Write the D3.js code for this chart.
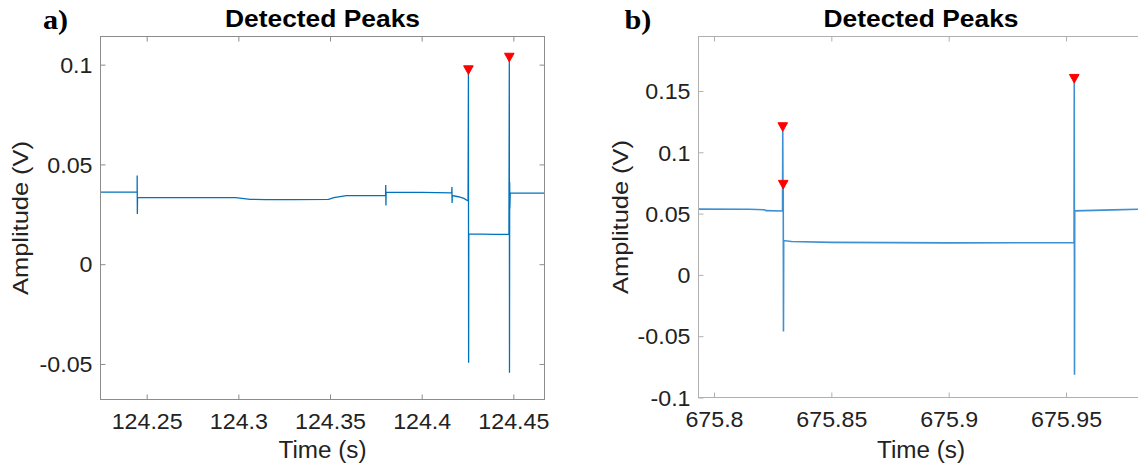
<!DOCTYPE html>
<html>
<head>
<meta charset="utf-8">
<script src="https://cdn.jsdelivr.net/npm/d3@7"></script>
<style>
  html, body { margin: 0; padding: 0; background: #fff; }
  svg { display: block; }
</style>
</head>
<body>
<svg id="fig" width="1138" height="470"></svg>
<script>
// ---- Panel a: recorded trace around t = 124.4 s ----
const timeA = [124.2247, 124.2448, 124.2448, 124.2449, 124.2450, 124.2986, 124.3064, 124.3150, 124.3300,
               124.3492, 124.3521, 124.3589, 124.3803, 124.3804, 124.3805, 124.3806, 124.4000, 124.4164,
               124.4165, 124.4166, 124.4167, 124.4200, 124.4230, 124.4253, 124.4255, 124.4256, 124.4257,
               124.4400, 124.4476, 124.4478, 124.4479, 124.4480, 124.4481, 124.4483, 124.4669];
const ampA  = [0.0361, 0.0361, 0.0444, 0.0251, 0.0334, 0.0334, 0.0325, 0.0324, 0.0324,
               0.0325, 0.0334, 0.0344, 0.0344, 0.0397, 0.0294, 0.0361, 0.0360, 0.0357,
               0.0387, 0.0307, 0.0344, 0.0338, 0.0330, 0.0317, 0.0955, -0.0494, 0.0152,
               0.0149, 0.0151, 0.1018, -0.0544, 0.0412, 0.0279, 0.0356, 0.0356];
const peakTimeA = [124.4255, 124.4478];
const peakAmpA  = [0.0955, 0.1018];
const xTicksA = [124.25, 124.3, 124.35, 124.4, 124.45];
const xTickLabelsA = ["124.25", "124.3", "124.35", "124.4", "124.45"];
const yTicksA = [-0.05, 0, 0.05, 0.1];
const yTickLabelsA = ["-0.05", "0", "0.05", "0.1"];

// ---- Panel b: recorded trace around t = 675.9 s ----
const timeB = [675.7932, 675.8150, 675.8215, 675.8222, 675.8292, 675.8293, 675.8294, 675.8295, 675.8296,
               675.8297, 675.8330, 675.8500, 675.9000, 675.9534, 675.9535, 675.9536, 675.9537, 675.9700, 675.9828];
const ampB  = [0.0536, 0.0535, 0.0531, 0.0524, 0.0521, 0.1177, 0.0650, 0.0707, -0.0462,
               0.0280, 0.0272, 0.0265, 0.0261, 0.0263, 0.1571, -0.0815, 0.0522, 0.0530, 0.0536];
const peakTimeB = [675.8293, 675.8295, 675.9535];
const peakAmpB  = [0.1177, 0.0707, 0.1571];
const xTicksB = [675.8, 675.85, 675.9, 675.95];
const xTickLabelsB = ["675.8", "675.85", "675.9", "675.95"];
const yTicksB = [-0.1, -0.05, 0, 0.05, 0.1, 0.15];
const yTickLabelsB = ["-0.1", "-0.05", "0", "0.05", "0.1", "0.15"];

const svg = d3.select("#fig");
const SANS = "'Liberation Sans', Arial, Helvetica, sans-serif";
const SERIF = "'Liberation Serif', 'Times New Roman', serif";

// Stretch text along its own direction
function widen(sel, k) {
  sel.each(function () {
    const w = this.getComputedTextLength();
    this.setAttribute("textLength", (w * k).toFixed(1));
    this.setAttribute("lengthAdjust", "spacingAndGlyphs");
  });
}
function fitTo(sel, len) {
  sel.attr("textLength", len).attr("lengthAdjust", "spacingAndGlyphs");
}

function drawPanel(p) {
  const g = svg.append("g");
  const x = d3.scaleLinear().domain(p.xDomain).range([p.left, p.right]);
  const y = d3.scaleLinear().domain(p.yDomain).range([p.bottom, p.top]);

  const clipId = "clip-" + p.id;
  svg.append("clipPath").attr("id", clipId)
    .append("rect").attr("x", p.left).attr("y", p.top)
    .attr("width", p.right - p.left).attr("height", p.bottom - p.top);

  // trace
  const pts = p.time.map((t, i) => [t, p.amp[i]]);
  g.append("path")
    .attr("clip-path", `url(#${clipId})`)
    .attr("d", d3.line().x(d => x(d[0])).y(d => y(d[1]))(pts))
    .attr("fill", "none")
    .attr("stroke", p.lineColor)
    .attr("stroke-width", p.lineWidth)
    .attr("stroke-linejoin", "miter");

  // peak markers (downward triangles whose tip sits on the peak)
  g.selectAll("path.peak")
    .data(p.peakTime.map((t, i) => [t, p.peakAmp[i]]))
    .join("path")
    .attr("class", "peak")
    .attr("d", d => {
      const cx = x(d[0]), cy = y(d[1]);
      return `M${cx - 4.8},${cy - 7.8}L${cx + 4.8},${cy - 7.8}L${cx},${cy + 0.8}Z`;
    })
    .attr("fill", "#ff0000")
    .attr("stroke", "#ff0000")
    .attr("stroke-width", 1)
    .attr("stroke-linejoin", "round");

  // axes with inward ticks on all four sides
  const ax = (axis, tr, vals, labels) => {
    const a = g.append("g").attr("transform", tr)
      .call(axis.tickValues(vals)
        .tickFormat(labels ? ((d, i) => labels[i]) : () => "")
        .tickSizeInner(-5).tickSizeOuter(0));
    a.select(".domain").remove();
    a.selectAll(".tick line").attr("stroke", p.axisColor);
    return a;
  };
  const bottomAx = ax(d3.axisBottom(x).tickPadding(14.5), `translate(0,${p.bottom})`, p.xTicks, p.xTickLabels);
  ax(d3.axisTop(x), `translate(0,${p.top})`, p.xTicks, null);
  const leftAx = ax(d3.axisLeft(y).tickPadding(8), `translate(${p.left},0)`, p.yTicks, p.yTickLabels);
  ax(d3.axisRight(y), `translate(${p.right},0)`, p.yTicks, null);

  bottomAx.selectAll("text")
    .attr("font-family", SANS).attr("font-size", 21.5).attr("fill", "#222");
  leftAx.selectAll("text")
    .attr("font-family", SANS).attr("font-size", 21.5).attr("fill", "#222").attr("dy", "0.36em");
  widen(bottomAx.selectAll("text"), 1.08);
  widen(leftAx.selectAll("text"), 1.08);

  // axis box
  g.append("rect")
    .attr("x", p.left).attr("y", p.top)
    .attr("width", p.right - p.left).attr("height", p.bottom - p.top)
    .attr("fill", "none").attr("stroke", p.axisColor).attr("stroke-width", 1);

  const cx = (p.left + p.right) / 2;
  const cy = (p.top + p.bottom) / 2;

  // title
  const title = g.append("text")
    .attr("x", cx).attr("y", 26.5)
    .attr("text-anchor", "middle")
    .attr("font-family", SANS).attr("font-weight", "bold").attr("font-size", 23.5)
    .attr("fill", "#000")
    .text("Detected Peaks");
  fitTo(title, 195);

  // x label
  const xl = g.append("text")
    .attr("x", cx).attr("y", 458)
    .attr("text-anchor", "middle")
    .attr("font-family", SANS).attr("font-size", 23).attr("fill", "#222")
    .text("Time (s)");
  fitTo(xl, 88);

  // y label
  const yl = g.append("text")
    .attr("transform", `translate(${p.yLabelX},${cy}) rotate(-90)`)
    .attr("text-anchor", "middle")
    .attr("font-family", SANS).attr("font-size", 22.5).attr("fill", "#222")
    .text("Amplitude (V)");
  fitTo(yl, 154);

  // panel letter
  const letter = g.append("text")
    .attr("x", p.letterX).attr("y", 29)
    .attr("font-family", SERIF).attr("font-weight", "bold").attr("font-size", 28)
    .attr("fill", "#000")
    .text(p.letter);
  widen(letter, 1.08);
}

drawPanel({
  id: "a", letter: "a)", letterX: 43,
  left: 100.5, right: 544.5, top: 36.5, bottom: 399.5,
  xDomain: [124.2248, 124.4670], yDomain: [-0.0678, 0.1141],
  time: timeA, amp: ampA, peakTime: peakTimeA, peakAmp: peakAmpA,
  xTicks: xTicksA, xTickLabels: xTickLabelsA, yTicks: yTicksA, yTickLabels: yTickLabelsA,
  lineColor: "#0072BD", lineWidth: 1.3, axisColor: "#8c8c8c", yLabelX: 27.5
});

drawPanel({
  id: "b", letter: "b)", letterX: 624.5,
  left: 698.5, right: 1143.5, top: 36.5, bottom: 397.5,
  xDomain: [675.7934, 675.9830], yDomain: [-0.1, 0.1944],
  time: timeB, amp: ampB, peakTime: peakTimeB, peakAmp: peakAmpB,
  xTicks: xTicksB, xTickLabels: xTickLabelsB, yTicks: yTicksB, yTickLabels: yTickLabelsB,
  lineColor: "#3f90d2", lineWidth: 1.6, axisColor: "#b0b0b0", yLabelX: 627.5
});
</script>
</body>
</html>
